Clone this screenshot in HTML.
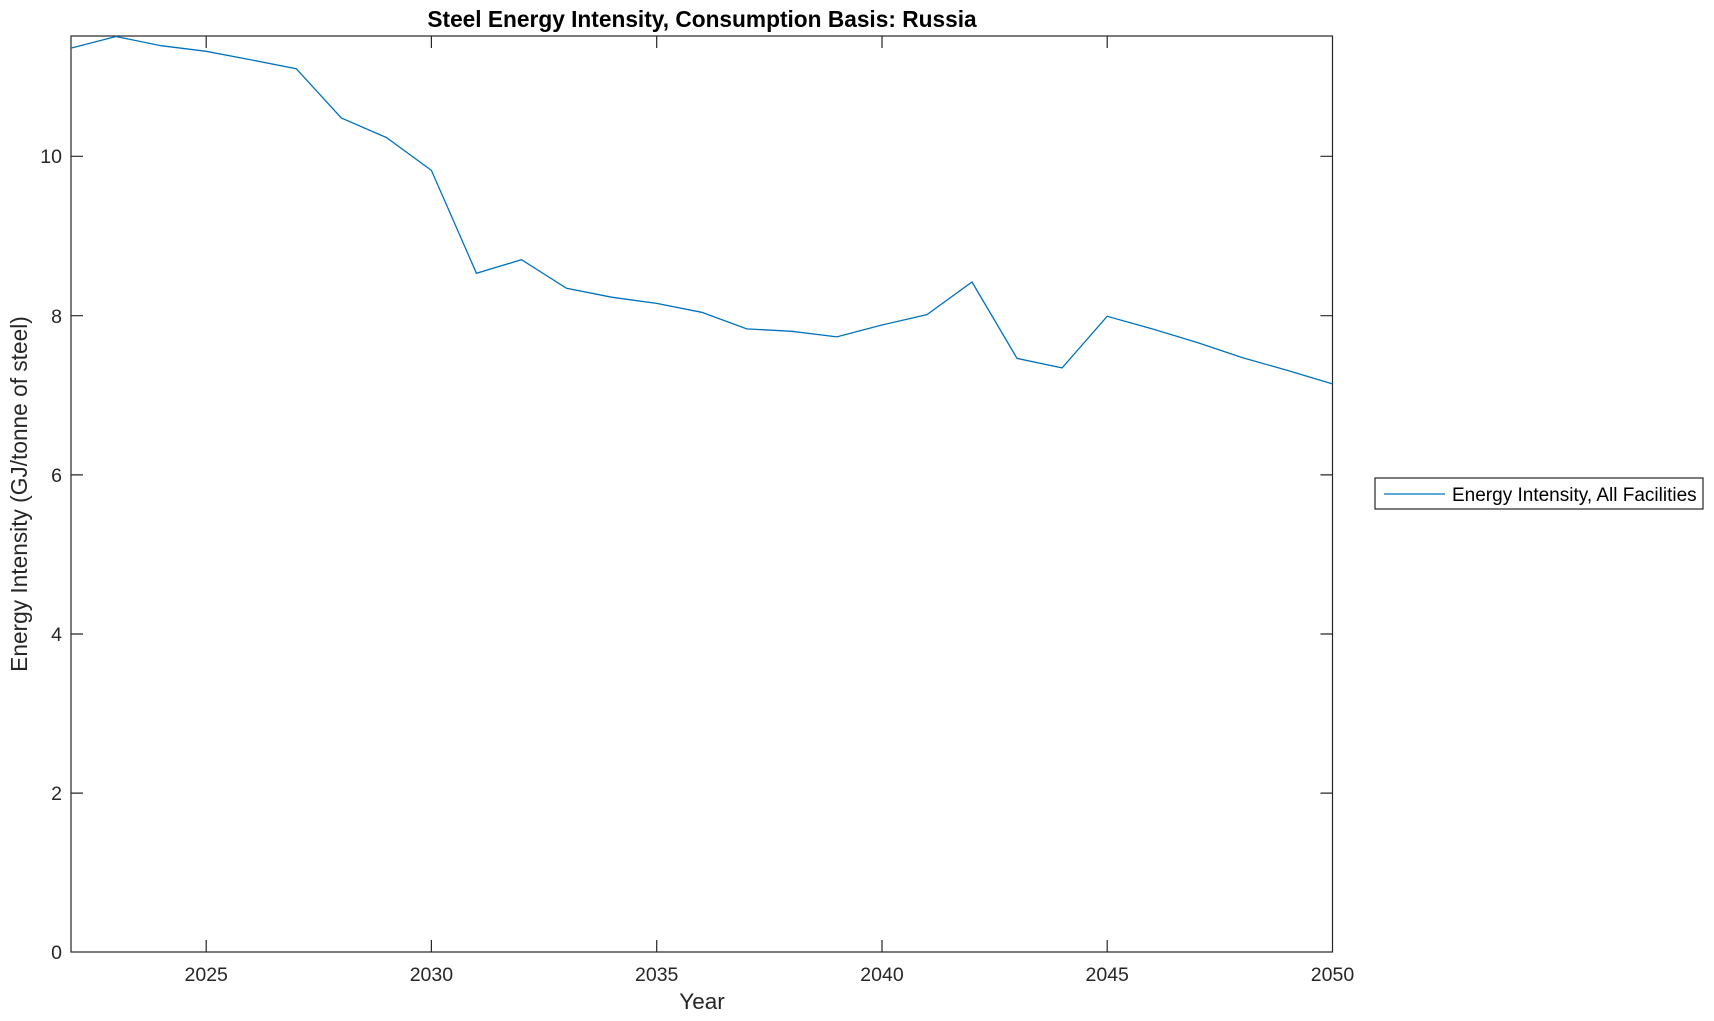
<!DOCTYPE html>
<html><head><meta charset="utf-8"><style>html,body{margin:0;padding:0;background:#fff}svg{display:block}</style></head>
<body>
<svg width="1714" height="1021" viewBox="0 0 1714 1021" xmlns="http://www.w3.org/2000/svg" font-family="Liberation Sans, sans-serif">
<rect width="1714" height="1021" fill="#fff"/>
<g stroke="#262626" stroke-width="1.2" fill="none">
<rect x="71" y="36" width="1261.5" height="916"/>
<path d="M206.2 952v-12M206.2 36v12M431.4 952v-12M431.4 36v12M656.7 952v-12M656.7 36v12M882 952v-12M882 36v12M1107.2 952v-12M1107.2 36v12"/>
<path d="M71 793.1h12M1332.5 793.1h-12M71 634h12M1332.5 634h-12M71 474.9h12M1332.5 474.9h-12M71 315.7h12M1332.5 315.7h-12M71 156.3h12M1332.5 156.3h-12"/>
</g>
<g font-size="19.5" fill="#262626" text-anchor="middle">
<text x="206.2" y="981">2025</text><text x="431.4" y="981">2030</text><text x="656.7" y="981">2035</text><text x="882" y="981">2040</text><text x="1107.2" y="981">2045</text><text x="1332.5" y="981">2050</text>
</g>
<g font-size="19.5" fill="#262626" text-anchor="end">
<text x="62" y="959">0</text><text x="62" y="800">2</text><text x="62" y="641">4</text><text x="62" y="482">6</text><text x="62" y="323">8</text><text x="62" y="163">10</text>
</g>
<text x="702" y="1009" font-size="22.5" fill="#262626" text-anchor="middle">Year</text>
<text transform="translate(27,494) rotate(-90)" font-size="22.7" fill="#262626" text-anchor="middle">Energy Intensity (GJ/tonne of steel)</text>
<text x="702" y="27" font-size="22.7" font-weight="bold" fill="#000" text-anchor="middle">Steel Energy Intensity, Consumption Basis: Russia</text>
<polyline fill="none" stroke="#0072BD" stroke-width="1.3" points="71,48.1 116.05,36.5 161.1,45.7 206.15,51.3 251.2,59.9 296.25,68.7 341.3,118 386.35,137.5 431.4,170.4 476.45,273.3 521.5,259.7 566.55,288.3 611.6,297.2 656.65,303.4 701.7,312.3 746.75,328.9 791.8,331.3 836.85,336.9 881.9,325 926.95,314.6 972,282 1017.05,358.4 1062.1,367.9 1107.15,316.3 1152.2,328.9 1197.25,342.5 1242.3,357.6 1287.35,370.4 1332.4,383.9"/>
<rect x="1375" y="478" width="328" height="31" fill="#fff" stroke="#262626" stroke-width="1.2"/>
<line x1="1384" y1="494" x2="1445" y2="494" stroke="#0072BD" stroke-width="1.3"/>
<text x="1452" y="501" font-size="19" fill="#000">Energy Intensity, All Facilities</text>
</svg>
</body></html>
